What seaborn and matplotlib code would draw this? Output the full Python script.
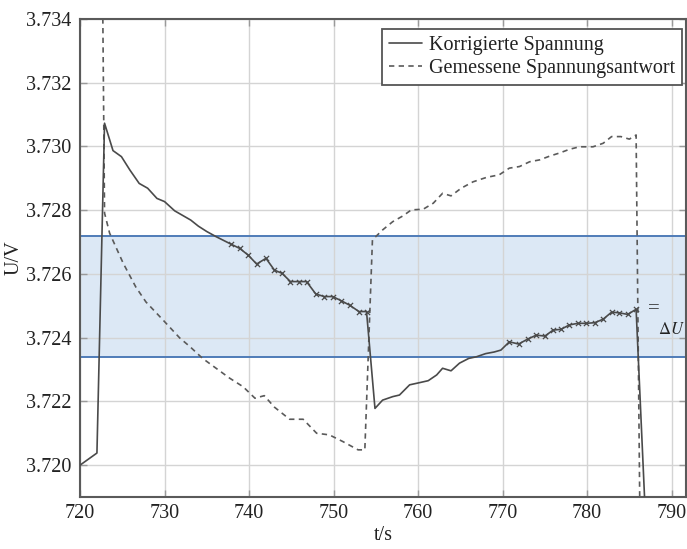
import matplotlib
matplotlib.use("Agg")
import matplotlib.pyplot as plt
import pandas as pd
import seaborn as sns

# Korrigierte Spannung (corrected voltage)
t_korr = [720.0, 722.0, 722.9, 723.9, 724.9, 725.9, 727.0, 728.0, 729.1, 730.0,
          731.2, 733.1, 734.0, 735.0, 736.1, 737.0, 737.9, 738.9, 739.9, 740.9,
          742.0, 743.0, 743.9, 744.9, 745.9, 746.8, 747.9, 748.9, 749.9, 750.9,
          751.9, 753.0, 753.9, 754.9, 755.8, 757.0, 757.8, 759.0, 760.2, 761.2,
          762.2, 762.9, 763.9, 764.9, 766.0, 766.9, 768.0, 769.0, 769.8, 770.8,
          771.9, 773.0, 774.0, 775.0, 776.0, 776.9, 777.9, 778.9, 779.9, 780.9,
          781.9, 782.9, 783.8, 784.8, 785.8, 787.0]
u_korr = [3.72000, 3.72038, 3.73073, 3.72987, 3.72968, 3.72926, 3.72884, 3.72869, 3.72837, 3.72827,
          3.72798, 3.72769, 3.72750, 3.72733, 3.72717, 3.72705, 3.72693, 3.72680, 3.72659, 3.72631,
          3.72649, 3.72612, 3.72602, 3.72576, 3.72576, 3.72576, 3.72537, 3.72529, 3.72529, 3.72516,
          3.72502, 3.72482, 3.72482, 3.72178, 3.72204, 3.72215, 3.72220, 3.72252, 3.72259, 3.72265,
          3.72283, 3.72304, 3.72296, 3.72320, 3.72335, 3.72340, 3.72350, 3.72355, 3.72361, 3.72387,
          3.72380, 3.72396, 3.72408, 3.72405, 3.72424, 3.72426, 3.72440, 3.72445, 3.72445, 3.72447,
          3.72458, 3.72480, 3.72478, 3.72473, 3.72489, 3.71780]

# Gemessene Spannungsantwort (measured voltage response)
t_mess = [722.6, 722.9, 723.5, 725.1, 726.6, 727.8, 729.8, 731.8, 733.0, 734.5,
          736.1, 737.7, 739.3, 740.7, 741.8, 743.0, 744.8, 746.4, 748.0, 749.5,
          751.1, 752.9, 753.7, 754.6, 755.8, 757.0, 758.2, 759.2, 760.6, 761.8,
          762.9, 763.9, 765.1, 766.5, 768.1, 769.6, 770.8, 772.0, 773.2, 774.4,
          775.6, 776.8, 777.9, 779.1, 780.7, 781.9, 782.9, 784.0, 785.0, 785.8, 786.3]
u_mess = [3.73700, 3.72791, 3.72728, 3.72634, 3.72559, 3.72512, 3.72456, 3.72399, 3.72372, 3.72335,
          3.72304, 3.72273, 3.72246, 3.72210, 3.72218, 3.72182, 3.72144, 3.72144, 3.72100, 3.72095,
          3.72074, 3.72048, 3.72048, 3.72707, 3.72738, 3.72764, 3.72782, 3.72801, 3.72803, 3.72822,
          3.72853, 3.72845, 3.72869, 3.72889, 3.72903, 3.72911, 3.72932, 3.72937, 3.72952, 3.72958,
          3.72970, 3.72980, 3.72991, 3.72999, 3.72999, 3.73010, 3.73031, 3.73031, 3.73023, 3.73036, 3.71700]

# Tolerance band ΔU and the stretches of samples marked inside it
band_low, band_high = 3.7234, 3.7272
marked_spans = [(737.5, 754.5), (770.5, 786.0)]

x_ticks = [720, 730, 740, 750, 760, 770, 780, 790]
y_ticks = [3.720, 3.722, 3.724, 3.726, 3.728, 3.730, 3.732, 3.734]

df_korr = pd.DataFrame({"t": t_korr, "U": u_korr})
df_mess = pd.DataFrame({"t": t_mess, "U": u_mess})
in_span = df_korr["t"].apply(lambda v: any(a <= v <= b for a, b in marked_spans))
df_marks = df_korr[in_span]

sns.set_theme(style="whitegrid")
plt.rcParams["font.family"] = ["Liberation Serif", "DejaVu Serif"]
plt.rcParams["mathtext.fontset"] = "stix"

fig = plt.figure(figsize=(6.87, 5.49), dpi=100)
ax = fig.add_axes([0.1165, 0.0947, 0.882, 0.8707])
ax.set_axisbelow(True)

line_col = "#4a4a4a"
band_edge = "#4f7cb8"

ax.axhspan(band_low, band_high, facecolor="#dce8f5", edgecolor="none", zorder=0.2)
ax.axhline(band_low, color=band_edge, lw=1.4, zorder=1.5)
ax.axhline(band_high, color=band_edge, lw=1.4, zorder=1.5)

sns.lineplot(data=df_korr, x="t", y="U", ax=ax, sort=False, estimator=None,
             color=line_col, lw=1.2, label="Korrigierte Spannung", zorder=3)
sns.lineplot(data=df_mess, x="t", y="U", ax=ax, sort=False, estimator=None,
             color="#5a5a5a", lw=1.2, linestyle=(0, (3.2, 2.6)),
             label="Gemessene Spannungsantwort", zorder=2.5)
sns.scatterplot(data=df_marks, x="t", y="U", ax=ax, marker="x", s=14,
                color=line_col, linewidth=0.9, zorder=3.5, legend=False)

ax.set_xlim(720, 791.7)
ax.set_ylim(3.719, 3.734)
ax.set_xticks(x_ticks)
ax.set_yticks(y_ticks)
ax.set_yticklabels([f"{v:.3f}" for v in y_ticks])
ax.grid(True, color="#d4d4d4", lw=1.0)

for side in ["left", "bottom", "top", "right"]:
    ax.spines[side].set_visible(True)
    ax.spines[side].set_color("#5a5a5a")
    ax.spines[side].set_linewidth(1.5)

ax.tick_params(axis="both", direction="in", length=5, width=1.0, color="#9a9a9a",
               bottom=True, left=True, top=True, right=True, labelsize=14.5,
               labelcolor="#222222")
ax.tick_params(axis="x", pad=5)
ax.tick_params(axis="y", pad=6)

ax.set_xlabel("t/s", fontsize=14.5, color="#222222", labelpad=2)
ax.set_ylabel("U/V", fontsize=14.5, color="#222222", labelpad=2)

ax.text(787.9, 3.72490, "=", ha="center", va="center", fontsize=15, color="#333333")
ax.text(791.6, 3.72425, r"$\Delta U$", ha="right", va="center", fontsize=12,
        color="#222222")

leg = ax.legend(loc="upper right", bbox_to_anchor=(0.993, 0.979), borderaxespad=0,
                fontsize=14.5, frameon=True, fancybox=False, framealpha=1,
                handlelength=1.6, handletextpad=0.35, borderpad=0.35, labelspacing=0.2)
leg.get_frame().set_edgecolor("#555555")
leg.get_frame().set_linewidth(1.3)
for txt in leg.get_texts():
    txt.set_color("#222222")

fig.savefig("out.png", dpi=100)
